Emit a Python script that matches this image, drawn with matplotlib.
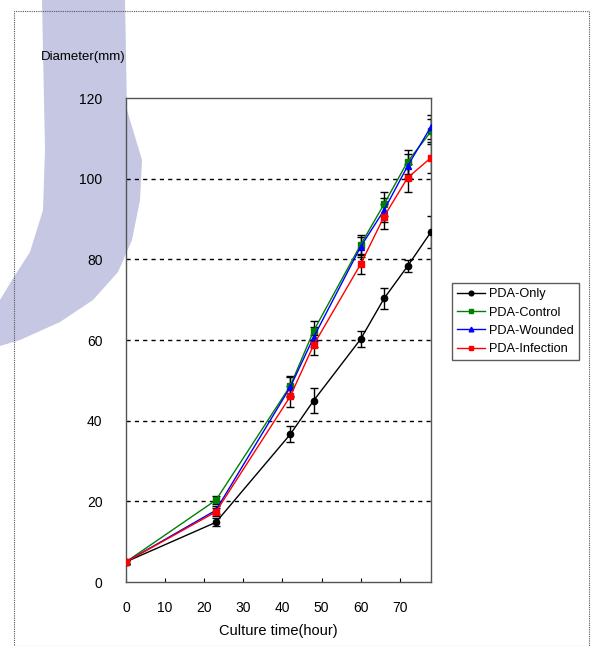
import matplotlib
matplotlib.use("Agg")
import matplotlib.pyplot as plt
import numpy as np
from matplotlib.patches import Rectangle, Polygon

plt.rcParams['font.family'] = ['Liberation Sans Narrow', 'Liberation Sans', 'DejaVu Sans']

hours = [0, 23, 42, 48, 60, 66, 72, 78]
series_names = ["PDA-Only", "PDA-Control", "PDA-Wounded", "PDA-Infection"]
only = [5, 14.8, 36.6, 45.0, 60.2, 70.3, 78.3, 86.8]
only_err = [0.5, 1.0, 2.0, 3.0, 2.0, 2.5, 1.5, 4.0]
control = [5, 20.3, 48.6, 62.3, 83.6, 93.7, 104.2, 111.7]
control_err = [0.5, 1.0, 2.5, 2.5, 2.5, 3.0, 3.0, 3.0]
wounded = [5, 17.8, 48.3, 60.7, 83.1, 92.2, 103.1, 112.9]
wounded_err = [0.5, 1.0, 2.5, 2.5, 2.5, 3.0, 3.0, 3.0]
infection = [5, 17.4, 46.0, 58.8, 78.8, 90.6, 100.2, 105.2]
infection_err = [0.5, 1.0, 2.5, 2.5, 2.5, 3.0, 3.5, 3.8]

colors = ["black", "#008000", "#0000ff", "#ff0000"]
markers = ["o", "s", "^", "s"]

W, H = 594, 646
fig = plt.figure(figsize=(W / 100, H / 100), dpi=100)

def fp(x, y):
    return (x / W, 1 - y / H)

# faint watermark band (background decoration)
band_px = [(42, 0), (125, 0), (127, 110), (142, 160), (140, 200), (132, 240), (118, 272),
           (93, 300), (60, 322), (20, 340), (0, 346), (0, 300), (12, 280), (30, 252),
           (43, 210), (45, 150)]
fig.add_artist(Polygon([fp(x, y) for x, y in band_px], closed=True, transform=fig.transFigure,
                       facecolor="#c5c7e3", edgecolor="none", zorder=0))

# outer dotted frame
fig.add_artist(Rectangle((14 / W, 0.0), 575 / W, 1 - 11 / H, transform=fig.transFigure,
                         fill=False, ls=(0, (1, 1)), lw=0.8, ec="#555555", zorder=1))

ax = fig.add_axes([126 / W, 1 - 582 / H, 305 / W, 484 / H])
ax.set_facecolor("none")

data = [(only, only_err), (control, control_err), (wounded, wounded_err), (infection, infection_err)]
handles = []
for (vals, errs), c, m, name in zip(data, colors, markers, series_names):
    ax.errorbar(hours, vals, yerr=errs, fmt='none', ecolor='black', elinewidth=1.0,
                capsize=3, capthick=1.0, zorder=2)
    h, = ax.plot(hours, vals, color=c, marker=m, markersize=4.5, lw=1.0, label=name, zorder=3)
    handles.append(h)

ax.set_xlim(0, 78)
ax.set_ylim(0, 120)
ax.set_xticks([0, 10, 20, 30, 40, 50, 60, 70])
ax.set_yticks([0, 20, 40, 60, 80, 100, 120])
for yv in [20, 40, 60, 80, 100]:
    ax.axhline(yv, color='black', ls=(0, (3, 3)), lw=1.0, zorder=1)
ax.tick_params(axis='x', direction='in', length=3, pad=14, labelsize=10)
ax.tick_params(axis='y', direction='in', length=0, pad=17, labelsize=10)
for s in ax.spines.values():
    s.set_color('#555555')
    s.set_linewidth(1.0)

fig.text(83 / W, 1 - 57 / H, "Diameter(mm)", ha='center', va='center', fontsize=9.5)
fig.text(278 / W, 1 - 631 / H, "Culture time(hour)", ha='center', va='center', fontsize=10.5)

leg = fig.legend(handles=handles, loc='upper left', bbox_to_anchor=(452 / W, 1 - 283 / H),
                 frameon=True, fancybox=False, fontsize=9.2, handlelength=2.2,
                 handletextpad=0.3, borderpad=0.4, labelspacing=0.5, markerscale=0.75,
                 borderaxespad=0)
leg.get_frame().set_edgecolor('#333333')
leg.get_frame().set_linewidth(1.0)

fig.savefig("out.png", dpi=100)
